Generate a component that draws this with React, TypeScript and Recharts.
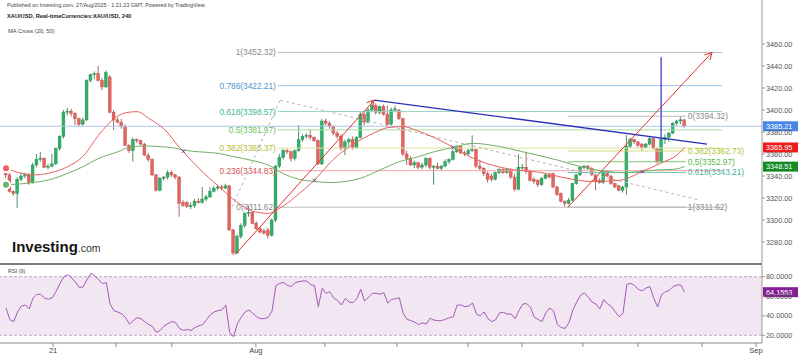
import React from 'react';
import {
  ComposedChart, Bar, Line, XAxis, YAxis, ReferenceLine, ReferenceArea, ReferenceDot,
} from 'recharts';

// ---------- DATA (XAU/USD 4h candles) ----------
const opens = [3347,3341,3326,3324,3337,3340,3341,3334,3350,3355,3356,3348,3349,3351,3365,3376,3398,3399,3397,3392,3387,3391,3427,3432,3433,3427,3421,3430,3398,3391,3389,3385,3368,3363,3373,3372,3369,3359,3355,3341,3327,3338,3339,3343,3341,3339,3316,3316,3312,3313,3317,3316,3319,3321,3326,3329,3330,3329,3331,3291,3270,3285,3295,3306,3307,3297,3292,3290,3291,3286,3300,3349,3357,3363,3362,3356,3363,3373,3376,3377,3375,3372,3351,3390,3388,3385,3379,3376,3365,3371,3373,3366,3375,3396,3389,3400,3404,3398,3403,3396,3387,3400,3400,3392,3360,3356,3350,3352,3348,3350,3356,3348,3349,3347,3349,3353,3355,3362,3367,3361,3360,3363,3364,3349,3347,3342,3340,3337,3343,3346,3343,3346,3339,3328,3348,3348,3344,3337,3336,3332,3338,3341,3342,3330,3324,3317,3315,3318,3333,3341,3348,3349,3347,3341,3336,3334,3344,3340,3333,3331,3327,3330,3367,3373,3371,3369,3366,3369,3374,3365,3353,3373,3375,3379,3388,3390,3391];
const highs = [3349,3343,3327,3339,3343,3343,3343,3352,3360,3362,3357,3351,3360,3366,3377,3400,3402,3401,3398,3393,3393,3428,3433,3435,3440,3429,3436,3432,3400,3393,3392,3387,3369,3375,3374,3373,3370,3361,3356,3342,3339,3340,3345,3345,3342,3340,3318,3317,3316,3319,3320,3330,3323,3330,3331,3332,3332,3333,3332,3292,3287,3297,3307,3313,3308,3299,3294,3292,3293,3301,3350,3360,3365,3365,3363,3364,3386,3378,3379,3382,3376,3373,3392,3392,3390,3386,3381,3378,3373,3375,3376,3376,3398,3398,3402,3409,3406,3404,3405,3404,3402,3404,3401,3393,3363,3358,3354,3353,3352,3357,3357,3350,3352,3350,3355,3356,3364,3368,3368,3363,3365,3377,3365,3355,3348,3344,3342,3344,3347,3347,3347,3347,3342,3360,3351,3362,3346,3339,3337,3339,3342,3343,3343,3331,3325,3318,3320,3334,3342,3349,3350,3350,3348,3342,3338,3345,3345,3341,3334,3332,3331,3377,3375,3374,3372,3370,3370,3376,3375,3366,3375,3378,3380,3389,3391,3394.3,3392];
const lows = [3338,3325,3322,3311,3335,3338,3332,3333,3348,3353,3347,3346,3348,3350,3363,3374,3395,3394,3386,3385,3386,3390,3425,3428,3426,3418,3420,3397,3382,3388,3383,3367,3361,3353,3370,3368,3358,3353,3340,3326,3326,3336,3337,3339,3337,3303,3312,3311,3310,3311,3315,3315,3317,3320,3325,3327,3327,3328,3290,3268,3269,3283,3293,3303,3296,3291,3288,3287,3283,3285,3298,3347,3355,3360,3353,3354,3362,3371,3374,3373,3371,3350,3350,3386,3383,3377,3374,3363,3359,3367,3364,3365,3374,3386,3388,3398,3396,3396,3395,3385,3386,3398,3391,3358,3350,3349,3347,3346,3346,3348,3346,3332,3346,3345,3348,3351,3354,3361,3360,3358,3359,3362,3347,3345,3340,3334,3335,3336,3342,3342,3342,3337,3326,3327,3345,3342,3335,3333,3330,3331,3337,3338,3329,3322,3316,3312,3314,3317,3332,3340,3346,3345,3340,3327,3333,3333,3339,3332,3329,3326,3325,3323,3365,3369,3366,3363,3365,3368,3364,3351,3352,3369,3371,3378,3386,3387,3384];
const closes = [3341,3326,3324,3337,3340,3341,3334,3350,3355,3356,3348,3349,3351,3365,3376,3398,3399,3397,3392,3387,3391,3427,3432,3433,3427,3421,3434,3398,3391,3389,3385,3368,3363,3373,3372,3369,3359,3355,3341,3327,3338,3339,3343,3341,3339,3315,3313,3312,3313,3317,3316,3319,3321,3326,3329,3330,3329,3331,3291,3270,3285,3295,3306,3307,3297,3292,3289,3288,3286,3300,3349,3357,3363,3362,3356,3363,3373,3376,3377,3375,3372,3351,3390,3388,3385,3379,3376,3365,3371,3373,3366,3375,3396,3389,3400,3404,3398,3403,3396,3387,3400,3401,3392,3360,3356,3350,3352,3348,3350,3356,3348,3349,3347,3349,3353,3355,3362,3367,3361,3360,3363,3364,3349,3347,3342,3337,3337,3343,3346,3343,3346,3339,3328,3348,3348,3344,3336,3335,3332,3338,3341,3339,3330,3323,3317,3315,3318,3333,3341,3348,3349,3347,3341,3335,3334,3344,3340,3333,3330,3327,3330,3367,3373,3371,3368,3366,3369,3374,3365,3353,3373,3375,3379,3388,3390,3391,3385.21];

const rsiValues = [48,36,34,44,50,51,47,58,62,62,58,57,58.5,65,73,80,82,79,74.5,69,69.5,77,83.4,81,77,73,74,52,45,43.8,42,38,31.5,35,38,37,34,31,29,23,25,29.5,32,34,33,27,25,26,25,28,29.8,31,36,41,44,45.2,46,51,23,18.5,32,38.5,44,45.9,42.5,39,37,37,38.5,45,71,73.2,74.2,71,70,73.9,75,75.6,75.6,72,70.8,49.3,68.1,62.9,64.6,58,55.6,51,57.8,54,53.4,57.8,67,55,59,63,63,62,63.6,53,56.8,57.3,58.5,42.5,36.5,35,33.5,31,32.7,31.5,37.5,35.5,35,35,36.5,38,39,51,51,49.3,50,53,42,40,44,37,34,36,43,43.5,41.8,41.8,37,45,52,52.5,49,38.5,36.3,34,43,48,45,31,28,27,33,45.9,54,61,63.5,59,54,52,47,56.5,52,49.5,44,39,42.5,72.2,73.2,71,67,65.5,68.5,69.8,58,49,61.5,64.6,66,69.8,71.5,71.5,64.1553];

const ma20Idx = [0,4,7,11,16,20,24,28,31,34,37,42,44,46,50,55,60,64,68,72,76,79,81,84,88,92,96,99,103,106,111,116,120,125,131,139,144,152,159,165,170,174,176];
const ma20Val = [3347,3342.5,3341,3342.5,3348.5,3358,3377,3392,3397.5,3398.5,3392.5,3379,3370,3362,3347,3331,3316,3308,3306,3313,3324,3333,3340,3352,3364,3373,3380,3384,3385,3382,3375,3366,3358,3351,3346,3343,3339,3335,3336,3344,3352,3359,3365.95];
const ma50Idx = [0,7,11,16,20,24,29,32,36,40,44,46,50,55,59,64,68,72,76,80,84,88,92,97,102,107,111,116,121,126,134,143,149,156,160,164,169,173,176];
const ma50Val = [3332,3334,3336.4,3342.4,3348.5,3356,3362,3366,3367.3,3366.7,3365.2,3363.6,3362,3360.6,3357.6,3354,3350,3342,3337,3335,3334,3335,3338,3345.5,3353,3357.6,3362,3366,3369.7,3368,3362,3354.5,3348.5,3344,3343,3344,3345.5,3346,3348.51];

const crossIdx = [46, 80, 116, 165];
const crossVal = [3362.5, 3336, 3366, 3344];

const priceTicks = [3280, 3300, 3320, 3340, 3360, 3380, 3400, 3420, 3440, 3460];
const rsiTicks = [20, 40, 60, 80];
const dateTickIdx = [12.2, 28.5, 43, 64.8, 82.7, 101.4, 119.8, 133.8, 149.6, 163.9, 180.5, 194.5];
const dateTickLabels = ['21', '', '', 'Aug', '', '', '', '', '', '', '', 'Sep'];

const lastPrice = 3385.21;
const ma20Last = 3365.95;
const ma50Last = 3348.51;
const rsiLast = 64.1553;

// Fibonacci drawings
const fib1Ratios = ['1', '0.786', '0.618', '0.5', '0.382', '0.236', '0'];
const fib1Levels = [3452.32, 3422.21, 3398.57, 3381.97, 3365.37, 3344.83, 3311.62];
const fib1Span = [70.5, 185.7];
const fib2Ratios = ['0', '0.382', '0.5', '0.618', '1'];
const fib2Levels = [3394.32, 3362.73, 3352.97, 3343.21, 3311.62];
const fib2Span = [145.7, 176.3];

// trend drawings (anchor points: candle index, price)
const arrow1 = [[59.4, 3268.5], [95.5, 3409]];
const arrow2 = [[145.7, 3311.62], [183.1, 3452.32]];
const blueTrend = [[95.5, 3409], [181.8, 3369]];
const blueVertical = [[169.9, 3448], [169.9, 3373]];
const dashA = [[58.6, 3311.62], [71.1, 3409]];
const dashB = [[71.1, 3409], [180, 3318]];

// ---------- STYLES ----------
const FONT = '"Liberation Sans", Arial, sans-serif';
const X_DOMAIN: [number, number] = [-1.56, 196.06];
const fib1LineColors = ['#bdbdbd', '#9cc3ea', '#93d5c9', '#a9dca0', '#dfe59f', '#f2a7a5', '#bdbdbd'];
const fib1TextColors = ['#8a8a8a', '#4f95d0', '#3fb39e', '#6cbf5a', '#b3bd2e', '#d9534f', '#8a8a8a'];
const fib2LineColors = ['#b9b9b9', '#d3da7a', '#7cc66f', '#6cc8b8', '#b9b9b9'];
const fib2TextColors = ['#8a8a8a', '#b3bd2e', '#5cb84a', '#3fb39e', '#8a8a8a'];

// ---------- TABLES ----------
const candleRows: any[] = closes.map((c, i) => ({
  i, o: opens[i], h: highs[i], l: lows[i], c,
  range: [lows[i], highs[i]], ma20: null, ma50: null,
}));
ma20Idx.forEach((k, j) => { candleRows[k].ma20 = ma20Val[j]; });
ma50Idx.forEach((k, j) => { candleRows[k].ma50 = ma50Val[j]; });
const rsiRows = rsiValues.map((v, i) => ({ i, rsi: v }));

// ---------- SHAPES ----------
const Candle = (props: any) => {
  const { x, y, width, height, payload } = props;
  if (x == null || y == null || !payload) return null;
  const top = Math.min(y, y + height);
  const hgt = Math.abs(height);
  const span = payload.h - payload.l;
  const k = span > 0 ? hgt / span : 0;
  const cx = x + width / 2;
  const yO = top + (payload.h - payload.o) * k;
  const yC = top + (payload.h - payload.c) * k;
  const up = payload.c >= payload.o;
  const bTop = Math.min(yO, yC);
  const bH = Math.max(Math.abs(yO - yC), 0.9);
  return (
    <g>
      <line x1={cx} x2={cx} y1={top} y2={top + hgt} stroke={up ? '#2f6f45' : '#8a4a48'} strokeWidth={0.8} />
      <rect x={cx - 1.45} y={bTop} width={2.9} height={bH}
        fill={up ? '#2fb068' : '#e4655f'} stroke={up ? '#23894f' : '#c2443f'} strokeWidth={0.4} />
    </g>
  );
};

const ArrowShape = (props: any) => {
  const { x1, y1, x2, y2, stroke } = props;
  const ang = Math.atan2(y2 - y1, x2 - x1);
  const L = 8;
  const A = 0.5;
  const p1 = `${x2 - L * Math.cos(ang - A)},${y2 - L * Math.sin(ang - A)}`;
  const p2 = `${x2 - L * Math.cos(ang + A)},${y2 - L * Math.sin(ang + A)}`;
  return (
    <g>
      <line x1={x1} y1={y1} x2={x2} y2={y2} stroke={stroke} strokeWidth={1} />
      <polyline points={`${p1} ${x2},${y2} ${p2}`} fill="none" stroke={stroke} strokeWidth={1} />
    </g>
  );
};

const FibText = (p: any) => {
  const vb = p.viewBox || { x: 0, y: 0, width: 0 };
  const left = p.side === 'left';
  return (
    <text x={left ? vb.x - 2 : vb.x + vb.width + 2} y={vb.y} dy={3}
      textAnchor={left ? 'end' : 'start'} fontSize={8.3} fill={p.color} fontFamily={FONT}>
      {p.text}
    </text>
  );
};

const PriceTag = (p: any) => {
  const vb = p.viewBox || { x: 0, y: 0, width: 0 };
  const x = vb.x + vb.width + 1;
  return (
    <g>
      <rect x={x} y={vb.y - 5} width={35} height={10} fill={p.bg} />
      <text x={x + 3} y={vb.y + 2.7} fontSize={7.3} fill="#fff" fontFamily={FONT}>{p.text}</text>
    </g>
  );
};

const CrossMark = (p: any) => {
  const { cx, cy } = p;
  if (cx == null) return null;
  return (
    <g stroke="#5b4a8a" strokeWidth={0.9}>
      <line x1={cx - 1.8} y1={cy - 1.8} x2={cx + 1.8} y2={cy + 1.8} />
      <line x1={cx - 1.8} y1={cy + 1.8} x2={cx + 1.8} y2={cy - 1.8} />
    </g>
  );
};

const seg = (pts: number[][]) => [{ x: pts[0][0], y: pts[0][1] }, { x: pts[1][0], y: pts[1][1] }];

export default function App() {
  return (
    <div style={{ position: 'absolute', left: 0, top: 0, width: 800, height: 358, background: '#fff', overflow: 'hidden', fontFamily: FONT }}>
      <div style={{ position: 'absolute', left: 0, top: 0 }}>
        <ComposedChart width={800} height={263} data={candleRows} margin={{ top: 0, right: 0, bottom: 0, left: 0 }}>
          <XAxis type="number" dataKey="i" domain={X_DOMAIN} allowDataOverflow hide />
          <YAxis orientation="right" type="number" domain={[3260.9, 3500]} allowDataOverflow ticks={priceTicks}
            interval={0} width={38} tickSize={3} tickMargin={1}
            tick={{ fontSize: 7.3, fill: '#555', fontFamily: FONT }}
            tickFormatter={(v: number) => v.toFixed(2)}
            axisLine={{ stroke: '#9a9a9a' }} tickLine={{ stroke: '#9a9a9a' }} />

          <ReferenceLine y={lastPrice} stroke="#a9c6ec" strokeWidth={1} ifOverflow="visible" />

          {fib1Levels.map((lv, j) => (
            <ReferenceLine key={'f1' + j} ifOverflow="visible" stroke={fib1LineColors[j]} strokeWidth={1}
              segment={[{ x: fib1Span[0], y: lv }, { x: fib1Span[1], y: lv }]}
              label={<FibText side="left" color={fib1TextColors[j]} text={`${fib1Ratios[j]}(${lv.toFixed(2)})`} />} />
          ))}
          {fib2Levels.map((lv, j) => (
            <ReferenceLine key={'f2' + j} ifOverflow="visible" stroke={fib2LineColors[j]} strokeWidth={1}
              segment={[{ x: fib2Span[0], y: lv }, { x: fib2Span[1], y: lv }]}
              label={<FibText side="right" color={fib2TextColors[j]} text={`${fib2Ratios[j]}(${lv.toFixed(2)})`} />} />
          ))}

          <ReferenceLine segment={seg(dashA)} stroke="#b5b5b5" strokeDasharray="3 3" ifOverflow="visible" />
          <ReferenceLine segment={seg(dashB)} stroke="#b5b5b5" strokeDasharray="3 3" ifOverflow="visible" />

          <Line type="monotone" dataKey="ma50" stroke="#6fb063" strokeWidth={1} dot={false} connectNulls isAnimationActive={false} />
          <Line type="monotone" dataKey="ma20" stroke="#e8625e" strokeWidth={1} dot={false} connectNulls isAnimationActive={false} />

          <Bar dataKey="range" barSize={3} shape={<Candle />} isAnimationActive={false} />

          <ReferenceLine segment={seg(blueTrend)} stroke="#2a2fb8" strokeWidth={1.3} ifOverflow="visible" />
          <ReferenceLine segment={seg(blueVertical)} stroke="#3d3fd6" strokeWidth={1.3} ifOverflow="visible" />
          <ReferenceLine segment={seg(arrow1)} stroke="#e0312f" ifOverflow="visible" shape={(p: any) => <ArrowShape {...p} stroke="#e0312f" />} />
          <ReferenceLine segment={seg(arrow2)} stroke="#e0312f" ifOverflow="visible" shape={(p: any) => <ArrowShape {...p} stroke="#e0312f" />} />

          {crossIdx.map((k, j) => (
            <ReferenceDot key={'x' + j} x={k} y={crossVal[j]} r={2} ifOverflow="visible" shape={<CrossMark />} />
          ))}

          <ReferenceLine y={ma20Last} stroke="none" ifOverflow="visible" label={<PriceTag bg="#ee1d1d" text={ma20Last.toFixed(2)} />} />
          <ReferenceLine y={ma50Last} stroke="none" ifOverflow="visible" label={<PriceTag bg="#138a24" text={ma50Last.toFixed(2)} />} />
          <ReferenceLine y={lastPrice} stroke="none" ifOverflow="visible" label={<PriceTag bg="#4a86e8" text={lastPrice.toFixed(2)} />} />
        </ComposedChart>
      </div>

      <div style={{ position: 'absolute', left: 0, top: 263, width: 762, height: 2, background: '#7a7a7a' }} />

      <div style={{ position: 'absolute', left: 0, top: 265 }}>
        <ComposedChart width={800} height={93} data={rsiRows} margin={{ top: 0, right: 0, bottom: 0, left: 0 }}>
          <XAxis type="number" dataKey="i" domain={X_DOMAIN} allowDataOverflow ticks={dateTickIdx} interval={0}
            height={15} tickSize={4} tickMargin={1}
            tick={{ fontSize: 7.5, fill: '#444', fontFamily: FONT }}
            tickFormatter={(v: number) => dateTickLabels[dateTickIdx.indexOf(v)] || ''}
            axisLine={{ stroke: '#8a8a8a' }} tickLine={{ stroke: '#8a8a8a' }} />
          <YAxis orientation="right" type="number" domain={[12.12, 91.98]} allowDataOverflow ticks={rsiTicks}
            interval={0} width={38} tickSize={3} tickMargin={1}
            tick={{ fontSize: 7.3, fill: '#555', fontFamily: FONT }}
            tickFormatter={(v: number) => v.toFixed(4)}
            axisLine={{ stroke: '#9a9a9a' }} tickLine={{ stroke: '#9a9a9a' }} />
          <ReferenceArea y1={20} y2={80} fill="#f3e6f3" fillOpacity={1} stroke="none" ifOverflow="visible" />
          <ReferenceLine y={80} stroke="#c2a7c2" strokeDasharray="3 2" ifOverflow="visible" />
          <ReferenceLine y={20} stroke="#c2a7c2" strokeDasharray="3 2" ifOverflow="visible" />
          <Line type="linear" dataKey="rsi" stroke="#a35ab7" strokeWidth={1} dot={false} isAnimationActive={false} />
          <ReferenceLine y={rsiLast} stroke="none" ifOverflow="visible" label={<PriceTag bg="#861f96" text={rsiLast.toFixed(4)} />} />
        </ComposedChart>
      </div>

      <div style={{ position: 'absolute', left: 7, top: 3, fontSize: 5.4, color: '#444', whiteSpace: 'nowrap', lineHeight: 1 }}>
        Published on Investing.com, 27/Aug/2025 - 1:21:23 GMT, Powered by TradingView.
      </div>
      <div style={{ position: 'absolute', left: 7, top: 13.5, fontSize: 5.7, fontWeight: 700, color: '#222', whiteSpace: 'nowrap', lineHeight: 1 }}>
        XAU/USD, Real-timeCurrencies:XAU/USD, 240
      </div>
      <div style={{ position: 'absolute', left: 8, top: 29, fontSize: 5.8, color: '#444', whiteSpace: 'nowrap', lineHeight: 1 }}>
        MA Cross (20, 50)
      </div>
      <div style={{ position: 'absolute', left: 8, top: 269, fontSize: 5.5, color: '#444', whiteSpace: 'nowrap', lineHeight: 1 }}>
        RSI (9)
      </div>
      <div style={{ position: 'absolute', left: 12, top: 239, whiteSpace: 'nowrap', lineHeight: 1, color: '#151515' }}>
        <span style={{ fontSize: 15, fontWeight: 700 }}>Investing</span>
        <span style={{ fontSize: 10.5, color: '#333' }}>.com</span>
      </div>
    </div>
  );
}
